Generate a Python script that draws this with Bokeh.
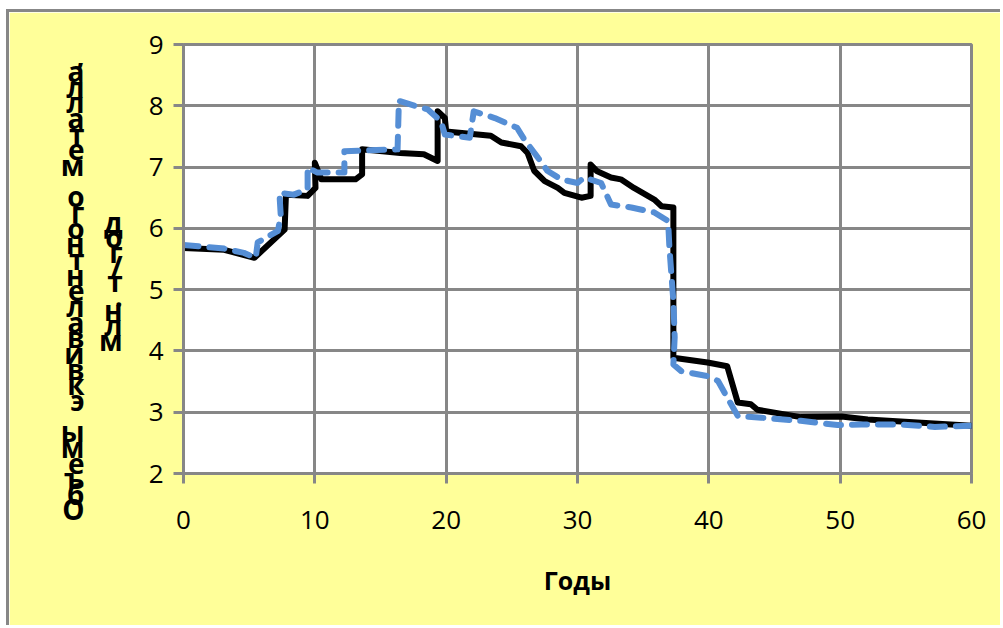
from bokeh.plotting import figure
from bokeh.models import FixedTicker, LinearAxis
from bokeh.embed import file_html
from bokeh.resources import INLINE

# ---- data ----
black_x = [0.0, 3.1, 5.4, 7.7, 7.8, 9.45, 10.05, 10.0, 10.5, 13.1, 13.6, 13.6, 16.5, 18.3, 19.35, 19.35,
           19.9, 20.0, 23.4, 24.2, 25.7, 26.2, 26.7, 27.5, 28.5, 29.0, 30.3, 31.0, 31.0, 31.5, 32.55,
           33.3, 34.3, 35.85, 36.4, 37.3, 37.3, 39.9, 41.4, 42.2, 43.2, 43.7, 47.0, 50.1, 52.1, 60.0]
black_y = [5.68, 5.65, 5.52, 5.98, 6.55, 6.53, 6.66, 7.07, 6.80, 6.80, 6.88, 7.29, 7.23, 7.21, 7.10, 7.91,
           7.80, 7.58, 7.51, 7.40, 7.34, 7.23, 6.94, 6.77, 6.66, 6.58, 6.50, 6.53, 7.04, 6.93, 6.83,
           6.80, 6.66, 6.47, 6.36, 6.34, 3.89, 3.81, 3.75, 3.16, 3.13, 3.04, 2.92, 2.93, 2.88, 2.78]

blue_x = [0.0, 3.1, 4.6, 5.5, 5.65, 7.2, 7.4, 7.3, 8.4, 9.45, 9.45, 10.2, 12.25, 12.25, 16.3, 16.4,
          17.6, 18.6, 19.6, 19.9, 21.8, 22.1, 23.7, 25.4, 25.95, 27.0, 27.7, 28.75, 30.0, 30.5, 31.8,
          32.55, 34.1, 35.85, 36.9, 37.0, 37.3, 37.4, 37.3, 37.9, 39.9, 40.7, 41.4, 42.2, 44.0, 47.0,
          49.8, 51.6, 54.6, 57.2, 60.0]
blue_y = [5.73, 5.67, 5.60, 5.52, 5.77, 5.96, 6.23, 6.58, 6.55, 6.64, 6.99, 6.91, 6.91, 7.26, 7.29, 8.08,
          8.00, 7.94, 7.75, 7.53, 7.48, 7.91, 7.80, 7.64, 7.45, 7.15, 6.94, 6.80, 6.74, 6.83, 6.74,
          6.39, 6.34, 6.26, 6.12, 5.68, 4.81, 4.22, 3.78, 3.67, 3.59, 3.51, 3.24, 2.94, 2.91, 2.86,
          2.79, 2.80, 2.80, 2.76, 2.78]

x_ticks = [0, 10, 20, 30, 40, 50, 60]
y_ticks = [2, 3, 4, 5, 6, 7, 8, 9]
x_title = "Годы"
y_title_1 = "Объемы эквивалентного металла,"
y_title_2 = "млн.т/год"

GRAY = "#878787"
YELLOW = "#FFFF99"
FONT = "Open Sans"


def stacked(txt, pad_top):
    # rotated title drawn as upright characters stacked bottom-to-top
    return "\n".join([" "] * pad_top + list(reversed(txt)))


p = figure(width=994, height=616, output_backend="svg", toolbar_location=None,
           x_range=(0, 60), y_range=(2, 9),
           min_border_left=174, min_border_right=32, min_border_top=32, min_border_bottom=155,
           background_fill_color="white", border_fill_color=YELLOW,
           margin=(9, 0, 0, 6))
p.styles = {"border-top": f"3px solid {GRAY}", "border-left": f"3px solid {GRAY}"}

p.line(black_x, black_y, line_color="black", line_width=6, line_join="round", line_cap="round")
p.line(blue_x, blue_y, line_color="#558ED5", line_width=6, line_dash="15 11",
       line_join="round", line_cap="round")

p.outline_line_color = GRAY
p.outline_line_width = 3

for ax in (p.xaxis[0], p.yaxis[0]):
    ax.axis_line_color = GRAY
    ax.axis_line_width = 3
    ax.major_tick_line_color = GRAY
    ax.major_tick_line_width = 3
    ax.major_tick_out = 10
    ax.major_tick_in = 0
    ax.minor_tick_line_color = None
    ax.major_label_text_font = FONT
    ax.major_label_text_font_size = "26px"
    ax.major_label_text_color = "black"

p.xaxis[0].ticker = FixedTicker(ticks=x_ticks)
p.yaxis[0].ticker = FixedTicker(ticks=y_ticks)
p.xaxis[0].major_label_standoff = 27
p.yaxis[0].major_label_standoff = 10

p.xaxis[0].axis_label = x_title
p.xaxis[0].axis_label_text_font = FONT
p.xaxis[0].axis_label_text_font_size = "25px"
p.xaxis[0].axis_label_text_font_style = "bold"
p.xaxis[0].axis_label_text_color = "black"
p.xaxis[0].axis_label_standoff = 31

# second part of the y title ("млн.т/год") on the main y axis
ya = p.yaxis[0]
ya.axis_label = stacked(y_title_2, 3)
ya.axis_label_orientation = "horizontal"
ya.axis_label_text_font = FONT
ya.axis_label_text_font_size = "28px"
ya.axis_label_text_font_style = "bold"
ya.axis_label_text_color = "black"
ya.axis_label_text_line_height = 0.387
ya.axis_label_standoff = 23

# first part of the y title on an extra, tick-less axis further left
extra = LinearAxis(ticker=FixedTicker(ticks=[]), axis_line_color=None,
                   major_tick_line_color=None, minor_tick_line_color=None,
                   major_tick_out=0, major_tick_in=0, minor_tick_out=0,
                   axis_label=stacked(y_title_1, 3), axis_label_orientation="horizontal",
                   axis_label_text_font=FONT, axis_label_text_font_size="28px",
                   axis_label_text_font_style="bold", axis_label_text_color="black",
                   axis_label_text_line_height=0.412, axis_label_standoff=11)
p.add_layout(extra, "left")

p.xgrid.ticker = FixedTicker(ticks=x_ticks)
p.ygrid.ticker = FixedTicker(ticks=y_ticks)
for g in (p.xgrid[0], p.ygrid[0]):
    g.grid_line_color = GRAY
    g.grid_line_width = 3

open("out.html", "w").write(file_html(p, INLINE))
